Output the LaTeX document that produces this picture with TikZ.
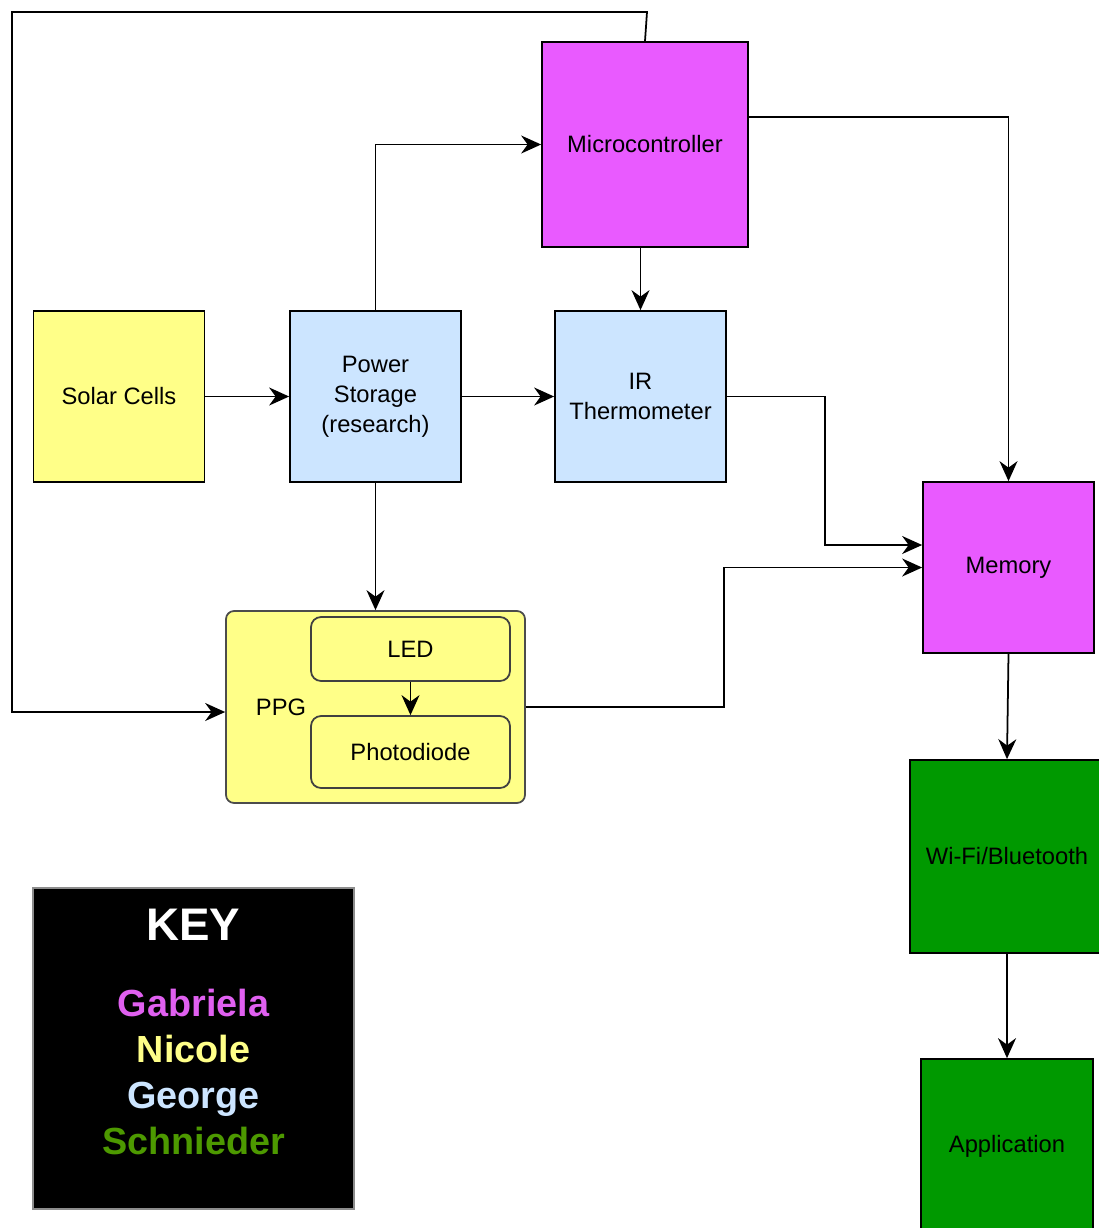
\documentclass[tikz,border=0pt]{standalone}
\usepackage{fontspec}
\setmainfont{Liberation Sans}
\usetikzlibrary{arrows.meta}
\definecolor{gabriela}{HTML}{E95AFF}
\definecolor{nicole}{HTML}{FFFF88}
\definecolor{george}{HTML}{CCE5FF}
\definecolor{schnieder}{HTML}{009900}
\definecolor{schniedertext}{HTML}{4D9900}
\definecolor{keytext}{HTML}{E060F0}

\begin{document}
\begin{tikzpicture}[x=0.02cm,y=-0.02cm,line width=1pt,
  >={Stealth[length=4mm,width=3.6mm,inset=1.3mm]},
  block/.style={draw=black,rectangle,inner sep=2pt,align=center,
    font=\fontsize{13.5}{17}\selectfont},
  part/.style={block,rounded corners=0.2cm,draw=black!75,fill=nicole}]
\clip (0,0) rectangle (1099,1228);

% blocks
\node[block,fill=gabriela,minimum width=4.12cm,minimum height=4.1cm]  (Micro)  at (645,144.5) {Microcontroller};
\node[block,fill=nicole,minimum width=3.42cm,minimum height=3.42cm]   (Solar)  at (119,396.5) {Solar Cells};
\node[block,fill=george,minimum width=3.42cm,minimum height=3.42cm]   (Power)  at (375.5,396.5) {Power\\Storage\\(research)};
\node[block,fill=george,minimum width=3.42cm,minimum height=3.42cm]   (IR)     at (640.5,396.5) {IR\\Thermometer};
\node[block,fill=gabriela,minimum width=3.42cm,minimum height=3.42cm] (Memory) at (1008.5,567.5) {Memory};
\node[part,draw=black!70,minimum width=5.98cm,minimum height=3.84cm,rounded corners=0.16cm] (PPG) at (375.5,707) {};
\node[block,draw=none] (PPGlabel) at (281,707) {PPG};
\node[part,minimum width=3.98cm,minimum height=1.28cm] (LED)   at (410.5,649) {LED};
\node[part,minimum width=3.98cm,minimum height=1.44cm] (Photo) at (410.5,752) {Photodiode};
\node[block,fill=schnieder,minimum width=3.88cm,minimum height=3.86cm] (WiFi) at (1007,856.5) {Wi-Fi/Bluetooth};
\node[block,fill=schnieder,minimum width=3.44cm,minimum height=3.48cm] (App)  at (1007,1146) {Application};

% key
\node[draw=black!45,fill=black,minimum width=6.42cm,minimum height=6.42cm] (Key) at (193.5,1048.5) {};
\node[text=white,font=\bfseries\fontsize{26}{30}\selectfont] (KeyTitle) at (193.5,925) {KEY};
\node[align=center,font=\bfseries\fontsize{21.5}{26}\selectfont] (KeyNames) at (193.5,1072)
  {\textcolor{keytext}{Gabriela}\\\textcolor{nicole}{Nicole}\\\textcolor{george}{George}\\\textcolor{schniedertext}{Schnieder}};

\path
 (825,545) coordinate (irbend)
 (724,567.5) coordinate (ppgbend)
 (12,712) coordinate (loopcorner)
;

% connectors
\draw[->] (Micro.north) -- (647,12) -- (12,12) -- (loopcorner) -- (PPG.west |- loopcorner);
\draw[->] (Power.north) |- (Micro.west);
\draw[->] (Micro.south -| IR.north) -- (IR.north);
\draw[->] ([yshift=0.55cm]Micro.east) -| (Memory.north);
\draw[->] (Solar) -- (Power);
\draw[->] (Power) -- (IR);
\draw[->] (IR.east) -| (irbend) -- (Memory.west |- irbend);
\draw[->] (Power.south) -- (PPG.north);
\draw[->] (LED) -- (Photo);
\draw[->] (PPG.east) -| (ppgbend) -- (Memory.west);
\draw[->] (Memory.south) -- (WiFi.north);
\draw[->] (WiFi.south) -- (App.north);
\end{tikzpicture}
\end{document}
